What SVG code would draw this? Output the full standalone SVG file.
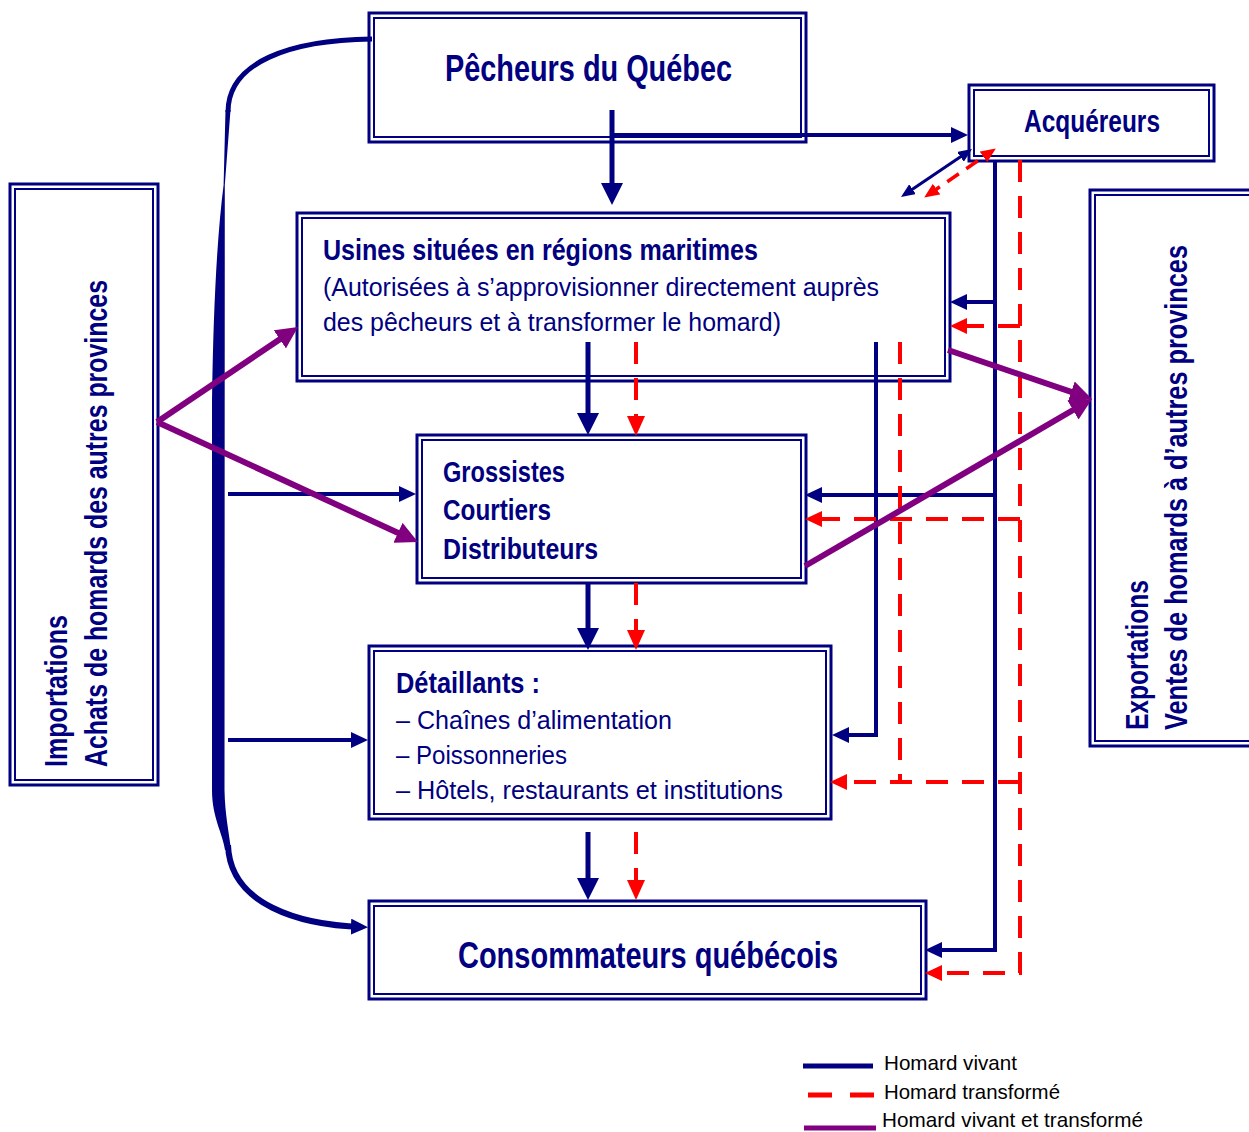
<svg xmlns="http://www.w3.org/2000/svg" width="1249" height="1132" viewBox="0 0 1249 1132">
<style>
.ob{fill:#fff;stroke:#000080;stroke-width:3}
.ib{fill:none;stroke:#000080;stroke-width:2}
.t{font-family:'Liberation Sans Narrow','Liberation Sans',sans-serif;fill:#000080}
.b{font-weight:bold}
.nv{fill:none;stroke:#000080;stroke-width:5}
.nvt{fill:none;stroke:#000080;stroke-width:4}
.rd{fill:none;stroke:#ff0000;stroke-width:4;stroke-dasharray:22 14}
.pu{fill:none;stroke:#800080;stroke-width:6}
.lg{font-family:'Liberation Sans Narrow','Liberation Sans',sans-serif;fill:#000;font-size:21px}
</style>
<defs>
<marker id="nB" markerUnits="userSpaceOnUse" markerWidth="22" markerHeight="22" refX="14" refY="11" orient="auto"><path d="M0,0 L22,11 L0,22 Z" fill="#000080"/></marker>
<marker id="nS" markerUnits="userSpaceOnUse" markerWidth="17" markerHeight="16" refX="11" refY="8" orient="auto"><path d="M0,0 L17,8 L0,16 Z" fill="#000080"/></marker>
<marker id="nD" markerUnits="userSpaceOnUse" markerWidth="14" markerHeight="12" refX="10" refY="6" orient="auto-start-reverse"><path d="M0,0 L14,6 L0,12 Z" fill="#000080"/></marker>
<marker id="rB" markerUnits="userSpaceOnUse" markerWidth="20" markerHeight="18" refX="14" refY="9" orient="auto"><path d="M0,0 L20,9 L0,18 Z" fill="#ff0000"/></marker>
<marker id="rS" markerUnits="userSpaceOnUse" markerWidth="17" markerHeight="16" refX="11" refY="8" orient="auto"><path d="M0,0 L17,8 L0,16 Z" fill="#ff0000"/></marker>
<marker id="rD" markerUnits="userSpaceOnUse" markerWidth="15" markerHeight="13" refX="10" refY="6.5" orient="auto-start-reverse"><path d="M0,0 L15,6.5 L0,13 Z" fill="#ff0000"/></marker>
<marker id="pB" markerUnits="userSpaceOnUse" markerWidth="22" markerHeight="22" refX="14" refY="11" orient="auto"><path d="M0,0 L22,11 L0,22 Z" fill="#800080"/></marker>
</defs>

<g id="pecheurs">
<rect class="ob" x="369" y="13" width="437" height="129"/>
<rect class="ib" x="374" y="18" width="427" height="119"/>
<text class="t b" x="445" y="81" font-size="36" textLength="287" lengthAdjust="spacingAndGlyphs">Pêcheurs du Québec</text>
</g>
<g id="acquereurs">
<rect class="ob" x="969" y="85" width="245" height="76"/>
<rect class="ib" x="974" y="90" width="235" height="66"/>
<text class="t b" x="1024" y="132" font-size="31" textLength="136" lengthAdjust="spacingAndGlyphs">Acquéreurs</text>
</g>
<g id="importations">
<rect class="ob" x="10" y="184" width="148" height="601"/>
<rect class="ib" x="15" y="189" width="138" height="591"/>
<text class="t b" transform="translate(67,767) rotate(-90)" font-size="32" textLength="152" lengthAdjust="spacingAndGlyphs">Importations</text>
<text class="t b" transform="translate(107,767) rotate(-90)" font-size="32" textLength="487" lengthAdjust="spacingAndGlyphs">Achats de homards des autres provinces</text>
</g>
<g id="exportations">
<rect class="ob" x="1090" y="190" width="170" height="556"/>
<rect class="ib" x="1095" y="195" width="160" height="546"/>
<text class="t b" transform="translate(1148,730) rotate(-90)" font-size="32" textLength="150" lengthAdjust="spacingAndGlyphs">Exportations</text>
<text class="t b" transform="translate(1187,730) rotate(-90)" font-size="32" textLength="485" lengthAdjust="spacingAndGlyphs">Ventes de homards à d’autres provinces</text>
</g>
<g id="usines">
<rect class="ob" x="297" y="213" width="653" height="168"/>
<rect class="ib" x="302" y="218" width="643" height="158"/>
<text class="t b" x="323" y="260" font-size="29" textLength="435" lengthAdjust="spacingAndGlyphs">Usines situées en régions maritimes</text>
<text class="t" x="323" y="296" font-size="26" textLength="556" lengthAdjust="spacingAndGlyphs">(Autorisées à s’approvisionner directement auprès</text>
<text class="t" x="323" y="331" font-size="26" textLength="458" lengthAdjust="spacingAndGlyphs">des pêcheurs et à transformer le homard)</text>
</g>
<g id="grossistes">
<rect class="ob" x="417" y="435" width="389" height="148"/>
<rect class="ib" x="422" y="440" width="379" height="138"/>
<text class="t b" x="443" y="482" font-size="29" textLength="122" lengthAdjust="spacingAndGlyphs">Grossistes</text>
<text class="t b" x="443" y="520" font-size="29" textLength="108" lengthAdjust="spacingAndGlyphs">Courtiers</text>
<text class="t b" x="443" y="559" font-size="29" textLength="155" lengthAdjust="spacingAndGlyphs">Distributeurs</text>
</g>
<g id="detaillants">
<rect class="ob" x="369" y="646" width="462" height="173"/>
<rect class="ib" x="374" y="651" width="452" height="163"/>
<text class="t b" x="396" y="693" font-size="29" textLength="144" lengthAdjust="spacingAndGlyphs">Détaillants :</text>
<text class="t" x="396" y="729" font-size="26" textLength="276" lengthAdjust="spacingAndGlyphs">– Chaînes d’alimentation</text>
<text class="t" x="396" y="764" font-size="26" textLength="171" lengthAdjust="spacingAndGlyphs">– Poissonneries</text>
<text class="t" x="396" y="799" font-size="26" textLength="387" lengthAdjust="spacingAndGlyphs">– Hôtels, restaurants et institutions</text>
</g>
<g id="consommateurs">
<rect class="ob" x="369" y="901" width="557" height="98"/>
<rect class="ib" x="374" y="906" width="547" height="88"/>
<text class="t b" x="458" y="968" font-size="36" textLength="380" lengthAdjust="spacingAndGlyphs">Consommateurs québécois</text>
</g>

<g id="connectors">
<path class="nv" d="M612,110 V197" marker-end="url(#nB)"/>
<path class="nvt" d="M612,135 H962" marker-end="url(#nS)"/>
<path fill="none" stroke="#000080" stroke-width="3" d="M904.3,194.8 L968.7,151.2" marker-start="url(#nD)" marker-end="url(#nD)"/>
<path fill="none" stroke="#ff0000" stroke-width="3.5" stroke-dasharray="14 9" d="M928.3,194.7 L991.7,151.3" marker-start="url(#rD)" marker-end="url(#rD)"/>
<path class="nvt" d="M995,160 V950 H931" marker-end="url(#nS)"/>
<path class="nvt" d="M995,302 H956" marker-end="url(#nS)"/>
<path class="nvt" d="M995,495 H811" marker-end="url(#nS)"/>
<path class="nvt" d="M876,342 V735 H838" marker-end="url(#nS)"/>
<path class="nv" d="M588,342 V427" marker-end="url(#nB)"/>
<path class="nv" d="M588,583 V642" marker-end="url(#nB)"/>
<path class="nv" d="M588,832 V892" marker-end="url(#nB)"/>
<path class="rd" d="M636,342 V430" marker-end="url(#rB)"/>
<path class="rd" d="M636,583 V644" marker-end="url(#rB)"/>
<path class="rd" d="M636,832 V894" marker-end="url(#rB)"/>
<path class="rd" d="M1020,160 V973 H931" marker-end="url(#rS)"/>
<path class="rd" d="M1020,326 H956" marker-end="url(#rS)"/>
<path class="rd" d="M1020,519 H811" marker-end="url(#rS)"/>
<path class="rd" d="M900,342 V782"/>
<path class="rd" d="M1020,782 H836" marker-end="url(#rS)"/>
<path fill="none" stroke="#000080" stroke-width="5" d="M372,39 C290,40 228,62 228,112"/>
<path fill="#000080" d="M225.5,110 L230.5,110 L224.8,185 L224.5,790 C225,815 229,832 231,850 L225,850 C223,834 212,818 212,790 L212,400 Q214,260 223.6,185 Z"/>
<path fill="none" stroke="#000080" stroke-width="6" d="M228,845 C230,905 300,925 362,927" marker-end="url(#nS)"/>
<path class="nvt" d="M228,494 H410" marker-end="url(#nS)"/>
<path class="nvt" d="M228,740 H362" marker-end="url(#nS)"/>
<path class="pu" d="M157,422 L291.4,331.5" marker-end="url(#pB)"/>
<path class="pu" d="M157,422 L410.7,538.7" marker-end="url(#pB)"/>
<path class="pu" d="M948,350 L1084.4,396.4" marker-end="url(#pB)"/>
<path class="pu" d="M805,566 L1085.1,403" marker-end="url(#pB)"/>
</g>

<g id="legend">
<line x1="803" y1="1066" x2="873" y2="1066" stroke="#000080" stroke-width="5"/>
<text class="lg" x="884" y="1070" textLength="133" lengthAdjust="spacingAndGlyphs">Homard vivant</text>
<line x1="808" y1="1095" x2="874" y2="1095" stroke="#ff0000" stroke-width="5" stroke-dasharray="24 18"/>
<text class="lg" x="884" y="1099" textLength="176" lengthAdjust="spacingAndGlyphs">Homard transformé</text>
<line x1="804" y1="1128" x2="876" y2="1128" stroke="#800080" stroke-width="5"/>
<text class="lg" x="882" y="1127" textLength="261" lengthAdjust="spacingAndGlyphs">Homard vivant et transformé</text>
</g>
</svg>
